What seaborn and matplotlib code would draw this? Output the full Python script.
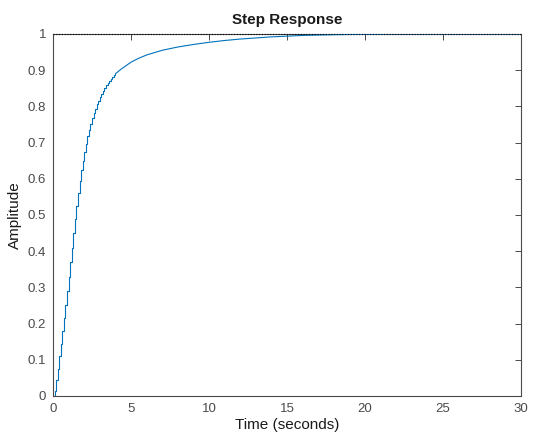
import numpy as np
import pandas as pd
import matplotlib
matplotlib.use("Agg")
import matplotlib.pyplot as plt
import seaborn as sns

t_stairs = [0.0, 0.1, 0.2, 0.3, 0.4, 0.5, 0.6, 0.7, 0.8, 0.9,
            1.0, 1.1, 1.2, 1.3, 1.4, 1.5, 1.6, 1.7, 1.8, 1.9,
            2.0, 2.1, 2.2, 2.3, 2.4, 2.5, 2.6, 2.7, 2.8, 2.9,
            3.0, 3.1, 3.2, 3.3, 3.4, 3.5, 3.6, 3.7, 3.8, 3.9, 4.0]
y_stairs = [0.0, 0.015, 0.045, 0.075, 0.11, 0.145, 0.18, 0.215, 0.25, 0.29,
            0.33, 0.37, 0.41, 0.45, 0.49, 0.525, 0.56, 0.595, 0.625, 0.65,
            0.675, 0.697, 0.717, 0.735, 0.752, 0.767, 0.781, 0.794, 0.806, 0.816,
            0.826, 0.835, 0.843, 0.851, 0.858, 0.865, 0.871, 0.876, 0.881, 0.886, 0.890]

t_tail = [4.0, 4.4, 5.0, 5.5, 6.0, 7.0, 8.0, 9.0, 10.0, 11.0, 12.0, 13.0,
          14.0, 15.0, 16.0, 17.0, 18.0, 20.0, 22.0, 25.0, 30.0]
y_tail = [0.890, 0.904, 0.922, 0.933, 0.942, 0.955, 0.964, 0.971, 0.977, 0.982, 0.986, 0.989,
          0.992, 0.994, 0.996, 0.997, 0.998, 0.999, 1.0, 1.0, 1.0]

x_ticks = [0, 5, 10, 15, 20, 25, 30]
y_ticks = [0, 0.1, 0.2, 0.3, 0.4, 0.5, 0.6, 0.7, 0.8, 0.9, 1]

sns.set_style("white")
plt.rcParams['font.family'] = ['Liberation Sans', 'DejaVu Sans']

fig = plt.figure(figsize=(5.43, 4.43), dpi=100)
ax = fig.add_axes([0.0976, 0.1061, 0.862, 0.8172])

line_col = '#0072BD'
axis_col = '#4a4a4a'

sns.lineplot(x=t_stairs, y=y_stairs, ax=ax, color=line_col, lw=0.8,
             drawstyle='steps-post', zorder=3)
sns.lineplot(x=t_tail, y=y_tail, ax=ax, color=line_col, lw=0.8, zorder=3)

# valeur finale (ligne pointillée)
ax.axhline(1.0, color='black', ls=(0, (1, 1.5)), lw=0.8, zorder=6, clip_on=False)

ax.set_xlim(0, 30)
ax.set_ylim(0, 1)
ax.set_xticks(x_ticks)
ax.set_yticks(y_ticks)
ax.set_xticklabels([str(v) for v in x_ticks])
ax.set_yticklabels(['0', '0.1', '0.2', '0.3', '0.4', '0.5', '0.6', '0.7', '0.8', '0.9', '1'])

ax.tick_params(direction='in', length=4, width=0.7, colors=axis_col,
               labelsize=9.5, top=True, right=True, pad=5)
for s in ax.spines.values():
    s.set_color(axis_col)
    s.set_linewidth(0.8)

ax.set_xlabel('Time (seconds)', fontsize=11, color='#1a1a1a', labelpad=2)
ax.set_ylabel('Amplitude', fontsize=11, color='#1a1a1a', labelpad=4)
ax.set_title('Step Response', fontsize=11, fontweight='bold', color='#1a1a1a', pad=7)

fig.savefig('out.png', dpi=100, facecolor='white')
